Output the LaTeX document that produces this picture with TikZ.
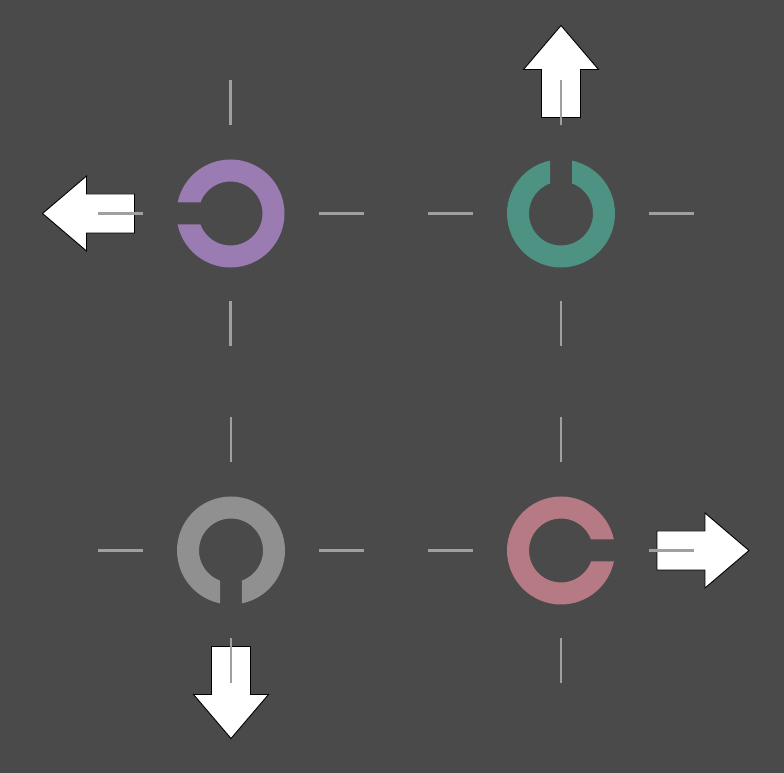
\documentclass[tikz,border=0pt]{standalone}
\usetikzlibrary{calc}
\definecolor{bgc}{HTML}{4A4A4A}
\definecolor{dashc}{HTML}{A0A0A0}
\definecolor{purp}{HTML}{9A7BB2}
\definecolor{teal2}{HTML}{4D9282}
\definecolor{pinkc}{HTML}{B67A84}
\definecolor{grayc}{HTML}{909090}
\tikzset{
  bigarrow/.style={fill=white, draw=black, line width=0.9pt, line join=miter},
  griddash/.style={draw=dashc, line width=2.6pt},
}
\newcommand\ringshape[3]{%
  \begin{scope}[shift={(#1)}, rotate=#2]
    \fill[#3] (11.75:54) arc[start angle=11.75, end angle=348.25, radius=54pt]
      -- (339.9:32) arc[start angle=339.9, end angle=20.1, radius=32pt] -- cycle;
  \end{scope}}
\newcommand\bigarrowshape[2]{%
  \begin{scope}[shift={(#1)}, rotate=#2]
    \draw[bigarrow] (96,-19.5) -- (144,-19.5) -- (144,-37.5) -- (188,0)
      -- (144,37.5) -- (144,19.5) -- (96,19.5) -- cycle;
  \end{scope}}
\newcommand\crossdashes[1]{%
  \foreach \a in {0,90,180,270}{
    \draw[griddash] ($(#1)+(\a:88)$) -- ($(#1)+(\a:133)$);
  }}
\begin{document}
\begin{tikzpicture}[x=1pt,y=1pt]
  \fill[bgc] (0,0) rectangle (784,773);
  \useasboundingbox (0,0) rectangle (784,773);
  \coordinate (P) at (230.5,559.5);
  \coordinate (T) at (561,559.5);
  \coordinate (G) at (231,222.5);
  \coordinate (K) at (561,222.5);
  % rings
  \ringshape{P}{180}{purp}
  \ringshape{T}{90}{teal2}
  \ringshape{G}{270}{grayc}
  \ringshape{K}{0}{pinkc}
  % arrows
  \bigarrowshape{P}{180}
  \bigarrowshape{T}{90}
  \bigarrowshape{G}{270}
  \bigarrowshape{K}{0}
  % dashes
  \crossdashes{P}
  \crossdashes{T}
  \crossdashes{G}
  \crossdashes{K}
\end{tikzpicture}
\end{document}
